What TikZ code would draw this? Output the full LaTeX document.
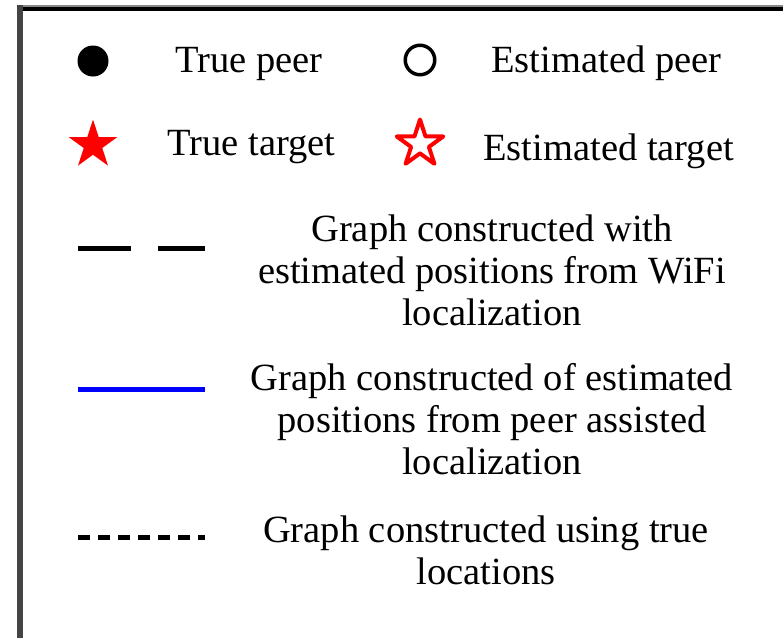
\documentclass[tikz,border=0pt]{standalone}
\usepackage{fontspec}
\setmainfont{Liberation Serif}
\usetikzlibrary{shapes.geometric}
\definecolor{bordergrey}{HTML}{444444}
\definecolor{topgrey}{HTML}{888888}
\begin{document}
\begin{tikzpicture}[x=0.5pt,y=-0.5pt,
  txt/.style={inner sep=0pt,font=\fontsize{19.25}{21}\selectfont},
  lbl/.style={txt,anchor=base west},
  blk/.style={txt,align=center,anchor=base},
  swatch/.style={line width=2.5pt,line cap=butt},
  starshape/.style={star,star points=5,star point ratio=2.618,inner sep=0pt,minimum size=25.5pt,shape border rotate=0}]
\useasboundingbox (0,0) rectangle (783,638);
\fill[white] (0,0) rectangle (783,638);
% frame (left and top edges)
\fill[topgrey] (17,5) rectangle (783,7);
\fill[black] (21,7) rectangle (783,11);
\fill[bordergrey] (17,5) rectangle (23,638);
% markers
\node[circle,fill=black,inner sep=0pt,minimum size=15.5pt] (truepeer) at (93,61) {};
\node[circle,draw=black,line width=1.75pt,inner sep=0pt,minimum size=14.75pt] (estpeer) at (420,60) {};
\node[starshape,fill=red] (truetarget) at (93,145) {};
\node[starshape,draw=red,line width=2pt,line join=round,minimum size=24.5pt] (esttarget) at (420,144) {};
% labels
\node[lbl] (ltruepeer) at (175,72) {True peer};
\node[lbl] (lestpeer) at (491,72) {Estimated peer};
\node[lbl] (ltruetarget) at (167,155) {True target};
\node[lbl] (lesttarget) at (483,160) {Estimated target};
% line swatches
\coordinate (wa) at (78,248);
\coordinate (wb) at (205,248);
\draw[swatch,black,dash pattern=on 26.5pt off 13.5pt] (wa) -- (wb);
\coordinate (pa) at (78,389);
\coordinate (pb) at (205,389);
\draw[swatch,blue] (pa) -- (pb);
\coordinate (ta) at (78,537.5);
\coordinate (tb) at (205,537.5);
\draw[swatch,black,dash pattern=on 6pt off 4pt] (ta) -- (tb);
% descriptions (base anchor = baseline of the last line)
\node[blk] (lwifi) at (492,325) {Graph constructed with\\estimated positions from WiFi\\localization};
\node[blk] (lpeer) at (492,474) {Graph constructed of estimated\\positions from peer assisted\\localization};
\node[blk] (ltrue) at (486,584) {Graph constructed using true\\locations};
\end{tikzpicture}
\end{document}
